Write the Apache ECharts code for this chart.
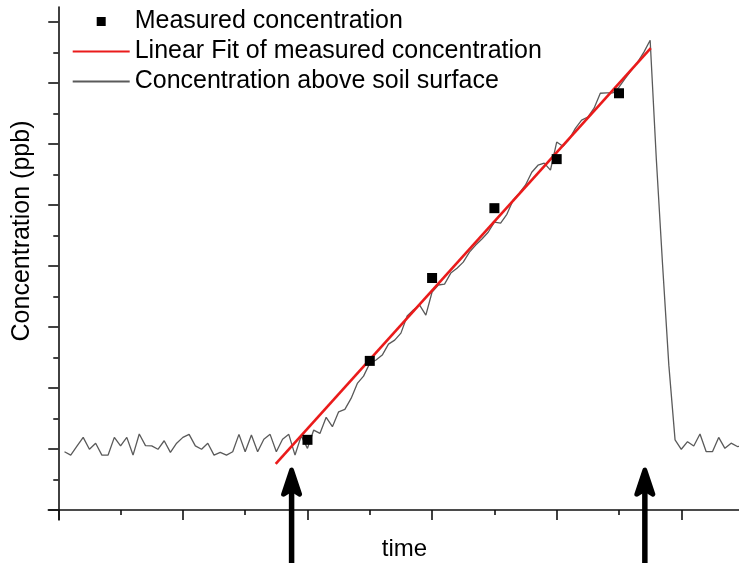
<!DOCTYPE html>
<html>
<head>
<meta charset="utf-8">
<script src="https://cdn.jsdelivr.net/npm/echarts@6/dist/echarts.min.js"></script>
<style>
html,body{margin:0;padding:0;background:#fff;}
#chart{width:739px;height:563px;}
</style>
</head>
<body>
<div id="chart"></div>
<script>
// ---- data ----
var timeValues = [0.1,0.2,0.3,0.4,0.5,0.6,0.7,0.8,0.9,1.0,
  1.1,1.2,1.3,1.4,1.5,1.6,1.7,1.8,1.9,2.0,
  2.1,2.2,2.3,2.4,2.5,2.6,2.7,2.8,2.9,3.0,
  3.1,3.2,3.3,3.4,3.5,3.6,3.7,3.8,3.9,4.0,
  4.1,4.2,4.3,4.4,4.5,4.6,4.7,4.8,4.9,5.0,
  5.1,5.2,5.3,5.4,5.5,5.6,5.7,5.8,5.9,6.0,
  6.1,6.2,6.3,6.4,6.5,6.6,6.7,6.8,6.9,7.0,
  7.1,7.2,7.3,7.4,7.5,7.6,7.7,7.8,7.9,8.0,
  8.1,8.2,8.3,8.4,8.5,8.6,8.7,8.8,8.9,9.0,
  9.1,9.2,9.3,9.4,9.5,9.6,9.7,9.8,9.9,10.0,
  10.1,10.2,10.3,10.4,10.5,10.6,10.7,10.8,10.9,11.0];
var aboveSoil = [1.91,1.80,2.09,2.38,1.99,2.19,1.80,1.80,2.38,2.10,
  2.38,1.80,2.49,2.11,2.10,1.99,2.27,1.89,2.19,2.38,
  2.48,2.10,1.99,2.19,1.80,1.89,1.80,1.91,2.48,1.91,
  2.46,1.91,2.32,2.48,1.91,2.32,2.48,1.80,2.43,2.02,
  2.62,2.51,3.04,2.73,3.22,3.30,3.66,4.15,4.39,4.81,
  4.92,5.08,5.44,5.57,5.80,6.36,6.56,6.72,6.39,7.15,
  7.38,7.41,7.77,7.93,8.13,8.46,8.69,8.89,9.11,9.44,
  9.41,9.70,10.16,10.39,10.66,11.08,11.31,11.38,11.15,12.07,
  11.93,12.16,12.52,12.79,12.89,13.18,13.67,13.68,13.68,13.87,
  14.16,14.43,14.69,15.02,15.41,11.48,8.03,4.75,2.30,1.99,
  2.24,2.10,2.49,1.91,1.91,2.38,2.02,2.19,2.08,2.10];
var measuredTime = [4, 5, 6, 7, 8, 9];
var measuredConc = [2.30, 4.89, 7.61, 9.90, 11.51, 13.67];
var fitTime = [3.49, 9.51];
var fitConc = [1.51, 15.15];
var arrowTime = [3.745, 9.415];
var arrowTip = [1.37, 1.37];
var xMajorTicks = [0, 2, 4, 6, 8, 10];
var xMinorTicks = [1, 3, 5, 7, 9, 11];
var yMajorTicks = [0, 2, 4, 6, 8, 10, 12, 14, 16];
var yMinorTicks = [1, 3, 5, 7, 9, 11, 13, 15];
var names = ['Measured concentration', 'Linear Fit of measured concentration', 'Concentration above soil surface'];

function zip(a, b){ return a.map(function(v, i){ return [v, b[i]]; }); }

var FONT = 'Arial, "Liberation Sans", sans-serif';
var X_MIN = -0.16, X_MAX = 11, Y_MIN = -0.33, Y_MAX = 16.5;
// small centred square inside the 57x9 legend icon box
var SQUARE_ICON = 'path://M0,0 M57,9 M24,0 L33,0 L33,9 L24,9 Z';

function xAxisDef(ticks, len, showLine, withName){
  var a = {
    type: 'value', min: X_MIN, max: X_MAX, position: 'bottom',
    axisLine: {show: showLine, onZero: true, lineStyle: {color: '#111', width: 1.6}},
    axisTick: {show: true, customValues: ticks, length: len, inside: false, lineStyle: {color: '#111', width: 1.6}},
    axisLabel: {show: false}, splitLine: {show: false}
  };
  if (withName) {
    a.name = 'time';
    a.nameLocation = 'middle';
    a.nameGap = 17;
    a.nameMoveOverlap = false;
    a.nameTextStyle = {fontFamily: FONT, fontSize: 24, color: '#000', padding: [0, 0, 0, 17]};
  }
  return a;
}
function yAxisDef(ticks, len, showLine, withName){
  var a = {
    type: 'value', min: Y_MIN, max: Y_MAX, position: 'left',
    axisLine: {show: showLine, onZero: true, lineStyle: {color: '#111', width: 1.6}},
    axisTick: {show: true, customValues: ticks, length: len, inside: false, lineStyle: {color: '#111', width: 1.6}},
    axisLabel: {show: false}, splitLine: {show: false}
  };
  if (withName) {
    a.name = 'Concentration (ppb)';
    a.nameLocation = 'middle';
    a.nameGap = 14;
    a.nameMoveOverlap = false;
    a.nameTextStyle = {fontFamily: FONT, fontSize: 25, color: '#000', padding: [0, 0, 0, 65]};
  }
  return a;
}

var chart = echarts.init(document.getElementById('chart'), null, {renderer: 'canvas'});
chart.setOption({
  animation: false,
  backgroundColor: '#fff',
  textStyle: {fontFamily: FONT},
  grid: {left: 48.3, top: 7, width: 695.3, height: 513, containLabel: false, outerBoundsMode: 'none'},
  legend: {
    orient: 'vertical', left: 71.7, top: 9, padding: 0,
    itemWidth: 57, itemHeight: 9, itemGap: 5,
    data: [
      {name: names[0], icon: SQUARE_ICON},
      {name: names[1], itemStyle: {opacity: 0}},
      {name: names[2], itemStyle: {opacity: 0}}
    ],
    selectedMode: false,
    textStyle: {fontFamily: FONT, fontSize: 25, lineHeight: 25, color: '#000'}
  },
  xAxis: [xAxisDef(xMajorTicks, 10, true, true), xAxisDef(xMinorTicks, 5, false, false)],
  yAxis: [yAxisDef(yMajorTicks, 10, true, true), yAxisDef(yMinorTicks, 5, false, false)],
  series: [
    {
      name: names[2], type: 'line', data: zip(timeValues, aboveSoil),
      symbol: 'none', showSymbol: false, silent: true,
      lineStyle: {color: '#5a5a5a', width: 1.3}, itemStyle: {color: '#5a5a5a'}, z: 2
    },
    {
      name: names[1], type: 'line', data: zip(fitTime, fitConc),
      symbol: 'none', showSymbol: false, silent: true,
      lineStyle: {color: '#ea1b1b', width: 2.6}, itemStyle: {color: '#ea1b1b'}, z: 3
    },
    {
      name: names[0], type: 'scatter', data: zip(measuredTime, measuredConc),
      symbol: 'rect', symbolSize: 10, silent: true,
      itemStyle: {color: '#000', opacity: 1}, z: 4
    },
    {
      name: 'arrows', type: 'custom', data: zip(arrowTime, arrowTip), silent: true, clip: false, z: 5,
      renderItem: function(params, api){
        var p = api.coord([api.value(0), api.value(1)]);
        var x = p[0], y = p[1], H = api.getHeight();
        return {type: 'group', children: [
          {type: 'line', shape: {x1: x, y1: y + 12, x2: x, y2: H}, style: {stroke: '#000', lineWidth: 5.5}},
          {type: 'polygon', shape: {points: [[x, y + 2], [x - 8, y + 26], [x, y + 21], [x + 8, y + 26]]},
           style: {fill: '#000', stroke: '#000', lineWidth: 5, lineJoin: 'round'}}
        ]};
      }
    }
  ]
});
</script>
</body>
</html>
